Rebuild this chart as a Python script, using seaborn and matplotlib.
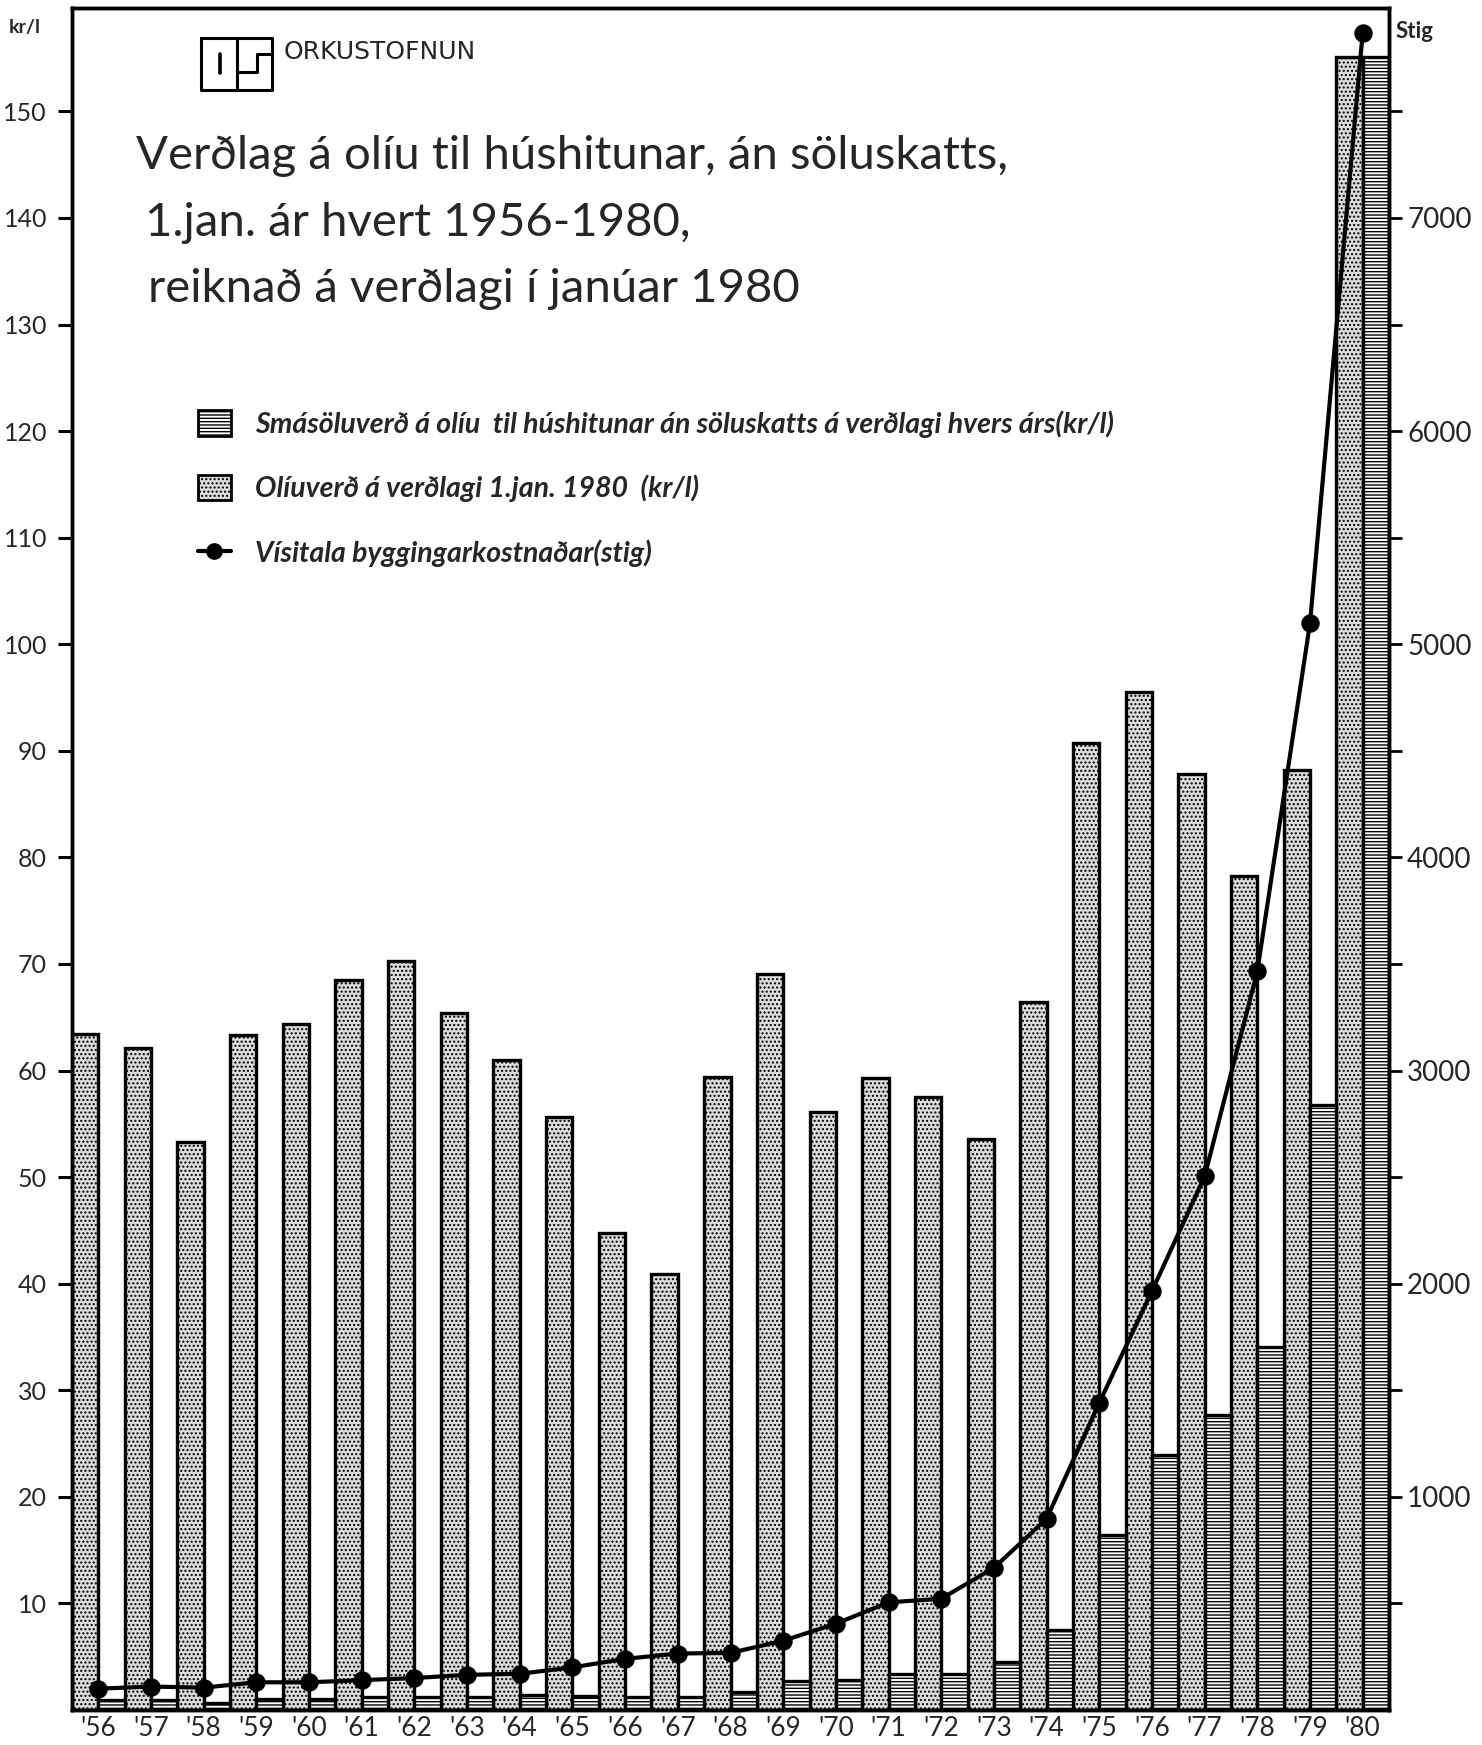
import numpy as np
import pandas as pd
import matplotlib
matplotlib.use("Agg")
import matplotlib.pyplot as plt
import seaborn as sns
from matplotlib.patches import Patch
from matplotlib.lines import Line2D

# Data
years = ["'56", "'57", "'58", "'59", "'60", "'61", "'62", "'63", "'64", "'65",
         "'66", "'67", "'68", "'69", "'70", "'71", "'72", "'73", "'74", "'75",
         "'76", "'77", "'78", "'79", "'80"]

# Olíuverð á verðlagi 1. jan. 1980 (kr/l)
real_price = [63.4, 62.1, 53.3, 63.3, 64.4, 68.5, 70.3, 65.4, 61.0, 55.6,
              44.8, 40.9, 59.4, 69.1, 56.1, 59.3, 57.5, 53.6, 66.4, 90.7,
              95.5, 87.8, 78.3, 88.2, 155.1]

# Smásöluverð á verðlagi hvers árs (kr/l)
nominal_price = [0.9, 0.9, 0.7, 1.0, 1.0, 1.2, 1.2, 1.2, 1.4, 1.3,
                 1.2, 1.2, 1.7, 2.7, 2.8, 3.4, 3.4, 4.5, 7.5, 16.4,
                 23.9, 27.7, 34.1, 56.8, 155.1]

# Vísitala byggingarkostnaðar (stig)
building_index = [100, 110, 105, 130, 130, 140, 150, 165, 170, 200,
                  240, 265, 268, 325, 405, 505, 522, 667, 897, 1441,
                  1965, 2503, 3466, 5098, 7867]

left_ticks = [10, 20, 30, 40, 50, 60, 70, 80, 90, 100, 110, 120, 130, 140, 150]
right_ticks = list(range(500, 8000, 500))
right_labels = [str(t) if t % 1000 == 0 else "" for t in right_ticks]

label_nominal = "Smásöluverð á olíu  til húshitunar án söluskatts á verðlagi hvers árs(kr/l)"
label_real = "Olíuverð á verðlagi 1.jan. 1980  (kr/l)"
label_index = "Vísitala byggingarkostnaðar(stig)"

title_lines = ["Verðlag á olíu til húshitunar, án söluskatts,",
               "1.jan. ár hvert 1956-1980,",
               "reiknað á verðlagi í janúar 1980"]

# Style
sns.set_theme(style="white")
plt.rcParams['font.family'] = ['Lato', 'DejaVu Sans']
plt.rcParams['hatch.linewidth'] = 1.0

W, H = 1482, 1745
fig = plt.figure(figsize=(W / 100, H / 100), dpi=100)
fig.subplots_adjust(left=72 / W, right=1389 / W, top=1 - 8 / H, bottom=1 - 1710 / H)
ax = fig.add_subplot(111)

df = pd.DataFrame({
    "year": years * 2,
    "value": real_price + nominal_price,
    "series": ["real"] * len(years) + ["nominal"] * len(years),
})

sns.barplot(data=df, x="year", y="value", hue="series", hue_order=["real", "nominal"],
            palette={"real": "white", "nominal": "white"}, saturation=1,
            width=1.0, gap=0, edgecolor="black", linewidth=2.4, legend=False, ax=ax)

stipple_face = "#dcdcdc"
stipple_hatch = "...."
lines_hatch = "-----"
for bar in ax.containers[0]:
    bar.set_facecolor(stipple_face)
    bar.set_hatch(stipple_hatch)
for bar in ax.containers[1]:
    bar.set_hatch(lines_hatch)

ax.set_ylim(0, 159.7)
ax.set_yticks(left_ticks)
ax.set_yticklabels([str(t) for t in left_ticks])
ax.set_xlabel("")
ax.set_ylabel("")
ax.tick_params(axis="y", direction="out", length=10, width=2.2, labelsize=18, pad=8,
               left=True, color="black")
ax.tick_params(axis="x", length=0, labelsize=19, pad=4)

# Building cost index on the right axis
ax2 = ax.twinx()
sns.pointplot(x=years, y=building_index, color="black", markers="o",
              markersize=11, linewidth=3, ax=ax2)
ax2.set_ylim(0, 159.7 * 50)
ax2.set_yticks(right_ticks)
ax2.set_yticklabels(right_labels)
ax2.set_ylabel("")
ax2.tick_params(axis="y", direction="out", length=9, width=2.0, labelsize=20, pad=4,
                right=True, color="black")

for a in (ax, ax2):
    for side in a.spines:
        a.spines[side].set_visible(True)
        a.spines[side].set_color("black")
        a.spines[side].set_linewidth(2.5)

# Axis unit labels
fig.text(9 / W, 1 - 28 / H, "kr/l", fontsize=14, fontweight="bold", ha="left", va="center")
fig.text(1396 / W, 1 - 31 / H, "Stig", fontsize=16, fontweight="bold", ha="left", va="center")

# Title
fig.text(136 / W, 1 - 169 / H, title_lines[0], fontsize=34, ha="left", va="baseline")
fig.text(145 / W, 1 - 236 / H, title_lines[1], fontsize=34, ha="left", va="baseline")
fig.text(148 / W, 1 - 302 / H, title_lines[2], fontsize=34, ha="left", va="baseline")

# Orkustofnun logo
def fp(x, y):
    return x / W, 1 - y / H

def seg(pts, lw=2.2):
    xs, ys = zip(*[fp(x, y) for x, y in pts])
    fig.add_artist(Line2D(xs, ys, color="black", lw=lw, transform=fig.transFigure))

seg([(201, 38), (272, 38), (272, 90), (201, 90), (201, 38)])
seg([(237, 38), (237, 90)])
seg([(220, 54), (220, 73)], lw=2.6)
seg([(272, 54), (257, 54), (257, 72), (237, 72)])
fig.text(284 / W, 1 - 52 / H, "ORKUSTOFNUN", fontsize=18, family=["DejaVu Sans"],
         ha="left", va="center")

# Legend
handles = [
    Patch(facecolor="white", edgecolor="black", hatch=lines_hatch, linewidth=2),
    Patch(facecolor=stipple_face, edgecolor="black", hatch=stipple_hatch, linewidth=2),
    Line2D([0], [0], color="black", lw=3, marker="o", markersize=11),
]
leg = ax.legend(handles, [label_nominal, label_real, label_index],
                loc="upper left", bbox_to_anchor=fp(198, 410), bbox_transform=fig.transFigure,
                frameon=False, fontsize=20.5, handlelength=1.15, handleheight=1.0,
                handletextpad=0.85, labelspacing=1.3, borderpad=0, borderaxespad=0)
for t in leg.get_texts():
    t.set_fontstyle("italic")
    t.set_fontweight("bold")

fig.savefig("out.png", dpi=100)
